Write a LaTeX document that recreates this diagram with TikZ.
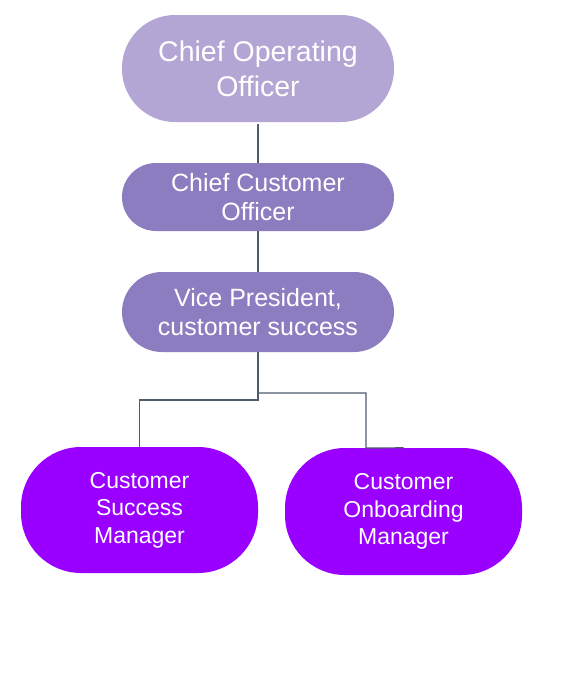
\documentclass[tikz,border=0pt]{standalone}
\usepackage{fontspec}
\setmainfont{Liberation Sans}
\usetikzlibrary{calc}
\definecolor{topviolet}{HTML}{B3A6D5}
\definecolor{midviolet}{HTML}{8C7DC1}
\definecolor{lowviolet}{HTML}{9900FF}
\definecolor{linkgray}{HTML}{4F5B6E}

\begin{document}
\begin{tikzpicture}[x=1pt,y=-1pt,
	every node/.style={text=white,align=center,inner sep=0pt},
	role/.style={fill=#1,draw=none},
	link/.style={draw=linkgray,line width=1.2pt}]
	
	\fill[white] (0,0) rectangle (565,683);
	\useasboundingbox (0,0) rectangle (565,683);
	
	% top of the chart
	\node[role=topviolet, minimum width=272pt, minimum height=107pt, rounded corners=53pt,
		font=\fontsize{28.5}{35}\selectfont] (coo) at (258,68.5) {Chief Operating\\Officer};
	\node[role=midviolet, minimum width=272pt, minimum height=68pt, rounded corners=34pt,
		font=\fontsize{25}{29}\selectfont] (cco) at (258,197) {Chief Customer\\Officer};
	\node[role=midviolet, minimum width=272pt, minimum height=80pt, rounded corners=40pt,
		font=\fontsize{25}{29}\selectfont] (vp) at (258,312) {Vice President,\\customer success};
	
	% managers
	\node[role=lowviolet, minimum width=237pt, minimum height=126pt, rounded corners=60pt,
		font=\fontsize{23}{27.5}\selectfont] (csm) at (139.5,510) {Customer\\Success\\Manager};
	\node[role=lowviolet, minimum width=237pt, minimum height=127pt, rounded corners=60pt,
		font=\fontsize{23}{27.5}\selectfont] (com) at (403.5,511.5) {Customer\\Onboarding\\Manager};
	
	\coordinate (split) at (258,400);
	\coordinate (bend) at (258,393);
	
	\draw[link] ($(coo.south)+(0,2)$) -- (cco.north);
	\draw[link] (cco.south) -- (vp.north);
	\draw[link] (vp.south) -- (split) -| (csm.north);
	\draw[link] (vp.south) -- (bend) -| (366,448) -- (com.north);
	
\end{tikzpicture}
\end{document}
